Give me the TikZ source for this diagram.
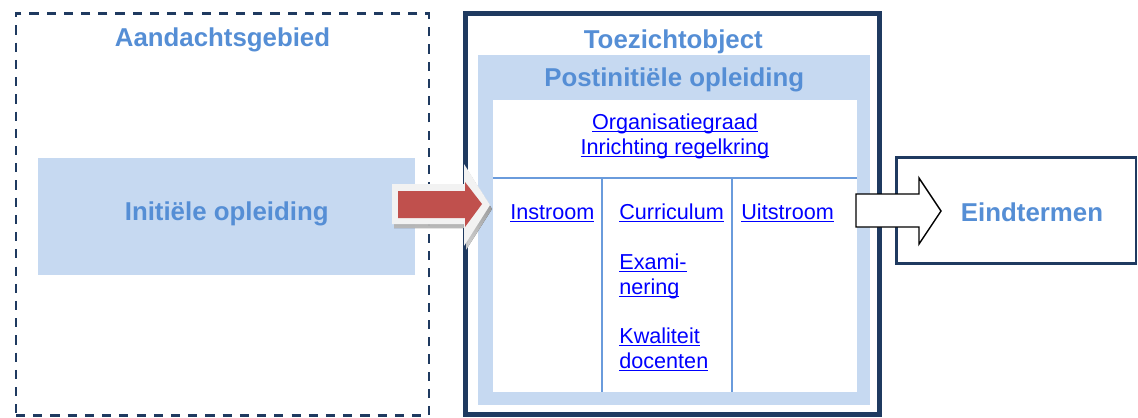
\documentclass[tikz,border=0pt]{standalone}
\usepackage{fontspec}
\setmainfont{Liberation Sans}
\usetikzlibrary{positioning}

\definecolor{navy}{HTML}{1F3A60}
\definecolor{titleblue}{HTML}{558ED5}
\definecolor{paleblue}{HTML}{C6D9F1}
\definecolor{colline}{HTML}{6A9BDC}
\definecolor{linkblue}{HTML}{0000FF}
\definecolor{arrowred}{HTML}{C0504D}
\definecolor{glow}{HTML}{F2F2F2}
\definecolor{shade}{HTML}{9C7676}

% underlined link text
\newsavebox{\lnkbox}
\newcommand{\lnk}[1]{\sbox{\lnkbox}{#1}\rlap{\rule[-1.8pt]{\wd\lnkbox}{0.6pt}}\usebox{\lnkbox}}

\tikzset{
  title/.style={font=\fontsize{14.7}{17}\selectfont\bfseries, text=titleblue, inner sep=0pt, anchor=base},
  link/.style={font=\fontsize{12.3}{14.2}\selectfont, text=linkblue, inner sep=0pt, anchor=base west},
  area/.style={inner sep=0pt, outer sep=0pt},
}

\begin{document}
\begin{tikzpicture}[x=0.02cm, y=-0.02cm]
			\useasboundingbox (0,0) rectangle (1138,417);

			% left side
			\node[area, draw=navy, line width=1.4pt, dash pattern=on 5.2pt off 4.6pt,
				minimum width=8.26cm, minimum height=8.04cm] (aandacht) at (222.5,214.5) {};
			\node[title] (aandachttitle) at (222.5,46.7) {Aandachtsgebied};
			\node[area, fill=paleblue, minimum width=7.54cm, minimum height=2.34cm] (init) at (226.5,216.5) {};
			\node[title] (inittitle) at (226.7,220.7) {Initiële opleiding};

			% toezichtobject
			\node[area, draw=navy, line width=2.8pt, minimum width=8.28cm, minimum height=8.02cm] (toezicht) at (672.5,214) {};
			\node[title] (toezichttitle) at (673.3,48.3) {Toezichtobject};
			\node[area, fill=paleblue, minimum width=7.84cm, minimum height=7cm] (post) at (674,230) {};
			\node[title] (posttitle) at (674.2,86.7) {Postinitiële opleiding};
			\node[area, fill=white, minimum width=7.28cm, minimum height=5.84cm] (inner) at (675,246) {};

			\coordinate (split) at (675,178);
			\draw[colline, line width=0.8pt] (inner.west |- split) -- (inner.east |- split);
			\foreach \c in {602, 732}
				{
					\draw[colline, line width=0.8pt] (\c,178) -- (\c,392);
				}

			\node[link, anchor=base] (org) at (675,129.3) {\lnk{Organisatiegraad}};
			\node[link, anchor=base] (regel) at (675,154) {\lnk{Inrichting regelkring}};

			\node[link] (instroom) at (510,219.3) {\lnk{Instroom}};
			\node[link] (curriculum) at (619,219.3) {\lnk{Curriculum}};
			\node[link] (exam1) at (619,269) {\lnk{Exami-}};
			\node[link] (exam2) at (619,294) {\lnk{nering}};
			\node[link] (kwal1) at (619,343.3) {\lnk{Kwaliteit}};
			\node[link] (kwal2) at (619,368.3) {\lnk{docenten}};
			\node[link] (uitstroom) at (741,219.3) {\lnk{Uitstroom}};

			% red arrow
			\fill[shade, opacity=0.8] (394,188)--(466,188)--(466,168)--(492,209)--(466,250)--(466,228)--(394,228)--cycle;
			\fill[glow] (392,184)--(464,184)--(464,164)--(490,205)--(464,246)--(464,224)--(392,224)--cycle;
			\fill[arrowred] (398,191)--(465,191)--(465,182)--(482,204)--(465,227)--(465,218)--(398,218)--cycle;

			% eindtermen
			\node[area, draw=navy, line width=1.5pt, fill=white, minimum width=4.79cm, minimum height=2.12cm] (eind) at (1016.25,210.3) {};
			\node[title] (eindtitle) at (1032,221.7) {Eindtermen};

			% white arrow
			\draw[black, fill=white, line width=0.8pt, line join=miter]
				(856,194)--(919,194)--(919,178)--(941,211)--(919,244)--(919,227)--(856,227)--cycle;
		\end{tikzpicture}
\end{document}
